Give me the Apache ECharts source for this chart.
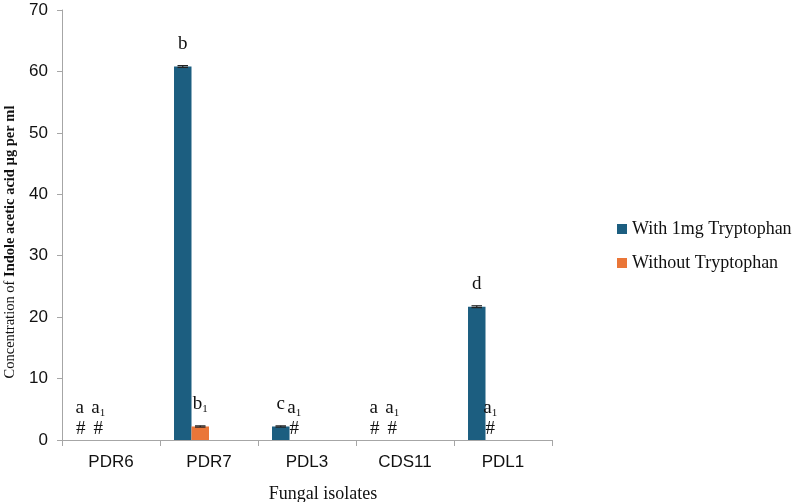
<!DOCTYPE html>
<html>
<head>
<meta charset="utf-8">
<script src="https://cdn.jsdelivr.net/npm/echarts@6/dist/echarts.min.js"></script>
<style>html,body{margin:0;padding:0;background:#fff;}#c{width:800px;height:502px;}</style>
</head>
<body>
<div id="c"></div>
<script>
const categories = ['PDR6', 'PDR7', 'PDL3', 'CDS11', 'PDL1'];
const withTryptophan = [0, 60.8, 2.2, 0, 21.7];
const withoutTryptophan = [0, 2.2, 0, 0, 0];
const withErr = [0, 0.15, 0.1, 0, 0.15];
const withoutErr = [0, 0.1, 0, 0, 0];
const withLetters = ['a', 'b', 'c', 'a', 'd'];
const withoutLetters = ['a1', 'b1', 'a1', 'a1', 'a1'];
const yMin = 0, yMax = 70, yInterval = 10;

const BLUE = '#1c5e80', ORANGE = '#ea7638';
const SERIF = '"Liberation Serif","Times New Roman",serif';
const SANS = '"Liberation Sans",Arial,sans-serif';
const CAT_GAP = 0.286, NSLOTS = 4;

function labelFormatter(letters) {
  return function (p) {
    const L = letters[p.dataIndex];
    const zero = p.value === 0;
    let t;
    if (L.length > 1) {
      t = '{l|' + L[0] + '}{' + (zero ? 'sz' : 's') + '|' + L.slice(1) + '}';
    } else {
      t = '{' + (zero ? 'lz' : 'l') + '|' + L + '}';
    }
    t += zero ? '\n{h|#}' : '\n{g| }';
    return t;
  };
}
const richStyles = {
  l: { fontFamily: SERIF, fontSize: 19, color: '#111', lineHeight: 21 },
  s: { fontFamily: SERIF, fontSize: 11, color: '#111', lineHeight: 17, verticalAlign: 'bottom' },
  lz: { fontFamily: SERIF, fontSize: 19, color: '#111', lineHeight: 21, padding: [0, 10, 0, 0] },
  sz: { fontFamily: SERIF, fontSize: 11, color: '#111', lineHeight: 17, verticalAlign: 'bottom', padding: [0, 8, 0, 0] },
  h: { fontFamily: SERIF, fontSize: 19, color: '#111', lineHeight: 21, padding: [0, 8, 0, 0] },
  g: { fontSize: 10, lineHeight: 12 }
};

function errorSeries(values, errs, slot) {
  return {
    type: 'custom',
    silent: true,
    z: 5,
    data: values.map((v, i) => [i, v, errs[i]]),
    renderItem: function (params, api) {
      const i = api.value(0), v = api.value(1), e = api.value(2);
      if (!e) return null;
      const catW = api.size([1, 0])[0];
      const groupW = catW * (1 - CAT_GAP);
      const bw = groupW / NSLOTS;
      const c = api.coord([i, v]);
      const x = c[0] - groupW / 2 + bw * (slot + 0.5);
      const top = api.coord([i, v + e])[1];
      const bot = api.coord([i, v - e])[1];
      const hw = bw * 0.3;
      const st = { stroke: '#222', lineWidth: 1.2 };
      return {
        type: 'group',
        children: [
          { type: 'line', shape: { x1: x, y1: top, x2: x, y2: bot }, style: st },
          { type: 'line', shape: { x1: x - hw, y1: top, x2: x + hw, y2: top }, style: st },
          { type: 'line', shape: { x1: x - hw, y1: bot, x2: x + hw, y2: bot }, style: st }
        ]
      };
    }
  };
}

const chart = echarts.init(document.getElementById('c'));
chart.setOption({
  animation: false,
  backgroundColor: '#fff',
  grid: { left: 62, right: 248, top: 10, bottom: 62, containLabel: false, outerBoundsMode: 'none' },
  legend: {
    data: ['With 1mg Tryptophan', 'Without Tryptophan'],
    orient: 'vertical',
    left: 612,
    top: 215,
    itemWidth: 10,
    itemHeight: 10,
    itemGap: 16,
    icon: 'rect',
    textStyle: { fontFamily: SERIF, fontSize: 18, color: '#111' }
  },
  xAxis: {
    type: 'category',
    data: categories,
    axisLine: { lineStyle: { color: '#a6a6a6', width: 1 } },
    axisTick: { show: true, length: 6, lineStyle: { color: '#a6a6a6' } },
    axisLabel: { fontFamily: SANS, fontSize: 17, color: '#111', margin: 14 },
    name: 'Fungal isolates',
    nameLocation: 'middle',
    nameGap: 45,
    nameTextStyle: { fontFamily: SERIF, fontSize: 18, color: '#111', padding: [0, 0, 0, 32] }
  },
  yAxis: {
    type: 'value',
    min: yMin,
    max: yMax,
    interval: yInterval,
    splitLine: { show: false },
    axisLine: { show: true, lineStyle: { color: '#a6a6a6', width: 1 } },
    axisTick: { show: true, length: 5, lineStyle: { color: '#a6a6a6' } },
    axisLabel: { fontFamily: SANS, fontSize: 17, color: '#111', margin: 14 },
    name: '{n|Concentration of }{b|Indole acetic acid µg per ml}',
    nameLocation: 'middle',
    nameGap: 44,
    nameRotate: 90,
    nameTextStyle: {
      padding: [0, 34, 0, 0],
      rich: {
        n: { fontFamily: SERIF, fontSize: 14.5, color: '#111' },
        b: { fontFamily: SERIF, fontSize: 14.5, fontWeight: 'bold', color: '#111' }
      }
    }
  },
  series: [
    {
      name: 'With 1mg Tryptophan',
      type: 'bar',
      data: withTryptophan,
      barGap: '0%',
      barCategoryGap: (CAT_GAP * 100) + '%',
      itemStyle: { color: BLUE },
      label: { show: true, position: 'top', distance: 0, formatter: labelFormatter(withLetters), rich: richStyles }
    },
    {
      name: 'Without Tryptophan',
      type: 'bar',
      data: withoutTryptophan,
      barGap: '0%',
      barCategoryGap: (CAT_GAP * 100) + '%',
      itemStyle: { color: ORANGE },
      label: { show: true, position: 'top', distance: 0, formatter: labelFormatter(withoutLetters), rich: richStyles }
    },
    { name: '_slot3', type: 'bar', data: categories.map(() => null), barGap: '0%', barCategoryGap: (CAT_GAP * 100) + '%' },
    { name: '_slot4', type: 'bar', data: categories.map(() => null), barGap: '0%', barCategoryGap: (CAT_GAP * 100) + '%' },
    errorSeries(withTryptophan, withErr, 0),
    errorSeries(withoutTryptophan, withoutErr, 1)
  ]
});
</script>
</body>
</html>
